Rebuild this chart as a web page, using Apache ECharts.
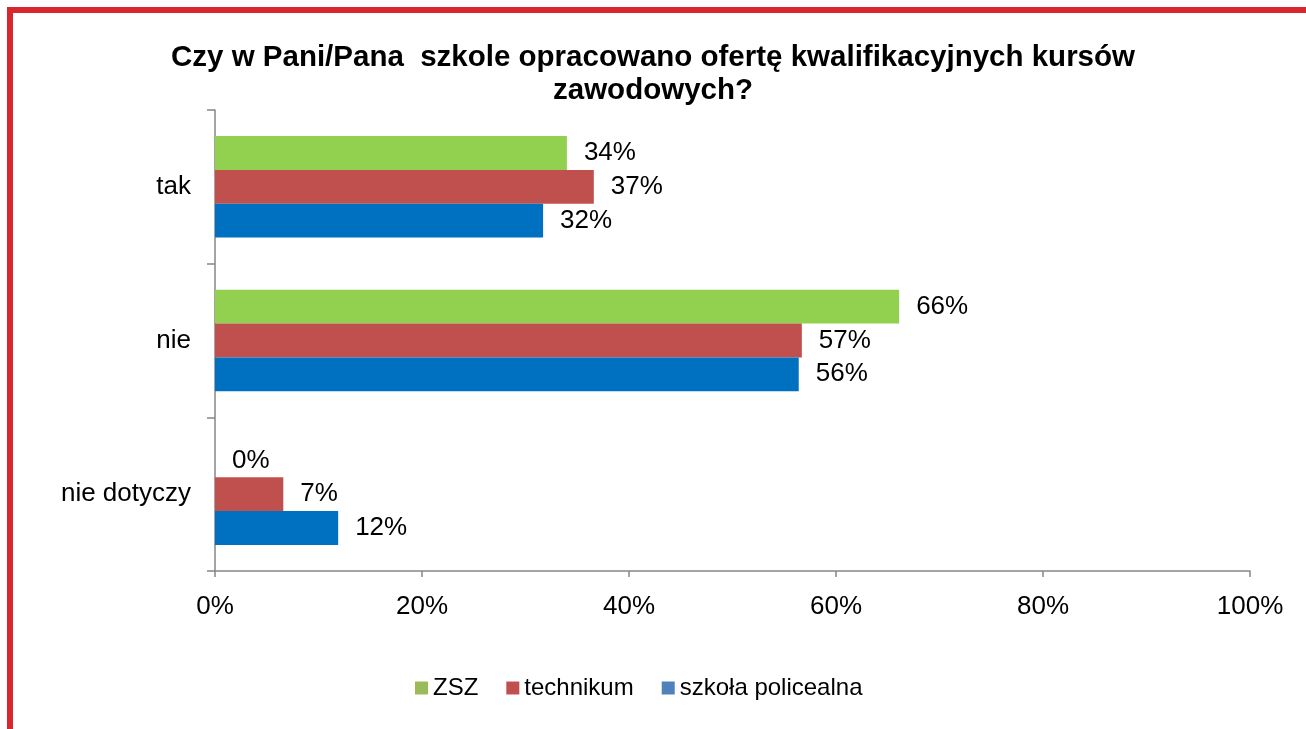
<!DOCTYPE html>
<html>
<head>
<meta charset="utf-8">
<script src="https://cdn.jsdelivr.net/npm/echarts@6/dist/echarts.min.js"></script>
<style>
    html, body { margin: 0; padding: 0; background: #fff; overflow: hidden; }
    #frame { position: absolute; left: 7px; top: 7px; width: 1400px; height: 800px;
             border-top: 6px solid #d8262f; border-left: 6px solid #d8262f; }
    #chart { position: absolute; left: 0; top: 0; width: 1306px; height: 729px; }
</style>
</head>
<body>
<div id="frame"></div>
<div id="chart"></div>
<script>
// odpowiedzi (kategorie osi Y)
const categories = ['tak', 'nie', 'nie dotyczy'];
const seriesNames = ['ZSZ', 'technikum', 'szkoła policealna'];

// wartości w procentach
const zszValues = [34.0, 66.1, 0];
const technikumValues = [36.6, 56.7, 6.6];
const policealnaValues = [31.7, 56.4, 11.9];

const xTicks = [0, 20, 40, 60, 80, 100];

const barColors = ['#92d050', '#c0504d', '#0070c0'];
const legendColors = ['#9bbb59', '#c0504d', '#4f81bd'];

const font = 'Liberation Sans, Arial, sans-serif';

const chart = echarts.init(document.getElementById('chart'));

function makeSeries(name, data, color) {
    return {
        name: name,
        type: 'bar',
        data: data,
        barGap: '0%',
        barCategoryGap: '34%',
        itemStyle: { color: color },
        label: {
            show: true,
            position: 'right',
            distance: 17,
            color: '#000',
            fontFamily: font,
            fontSize: 26,
            formatter: p => Math.round(p.value) + '%'
        }
    };
}

const option = {
    animation: false,
    title: {
        text: 'Czy w Pani/Pana  szkole opracowano ofertę kwalifikacyjnych kursów\nzawodowych?',
        left: 'center',
        top: 36,
        textStyle: {
            fontFamily: font,
            fontSize: 29.5,
            fontWeight: 'bold',
            color: '#000',
            lineHeight: 33
        }
    },
    legend: {
        left: 410,
        top: 671,
        itemWidth: 13,
        itemHeight: 13,
        itemGap: 28,
        icon: 'rect',
        textStyle: { fontFamily: font, fontSize: 24, color: '#000' },
        data: seriesNames.map((n, i) => ({ name: n, itemStyle: { color: legendColors[i] } }))
    },
    grid: { left: 215, right: 56, top: 110, bottom: 158 },
    xAxis: {
        type: 'value',
        min: xTicks[0],
        max: xTicks[xTicks.length - 1],
        interval: 20,
        axisLine: { show: true, lineStyle: { color: '#868686', width: 1.5 } },
        axisTick: { show: true, length: 6, lineStyle: { color: '#868686', width: 1.5 } },
        splitLine: { show: false },
        axisLabel: {
            fontFamily: font,
            fontSize: 26,
            color: '#000',
            margin: 23,
            formatter: v => v + '%'
        }
    },
    yAxis: {
        type: 'category',
        inverse: true,
        data: categories,
        axisLine: { show: true, lineStyle: { color: '#868686', width: 1.5 } },
        axisTick: { show: true, length: 8, lineStyle: { color: '#868686', width: 1.5 } },
        axisLabel: {
            fontFamily: font,
            fontSize: 26,
            color: '#000',
            margin: 24
        }
    },
    series: [
        makeSeries(seriesNames[0], zszValues, barColors[0]),
        makeSeries(seriesNames[1], technikumValues, barColors[1]),
        makeSeries(seriesNames[2], policealnaValues, barColors[2])
    ]
};

chart.setOption(option);
</script>
</body>
</html>
